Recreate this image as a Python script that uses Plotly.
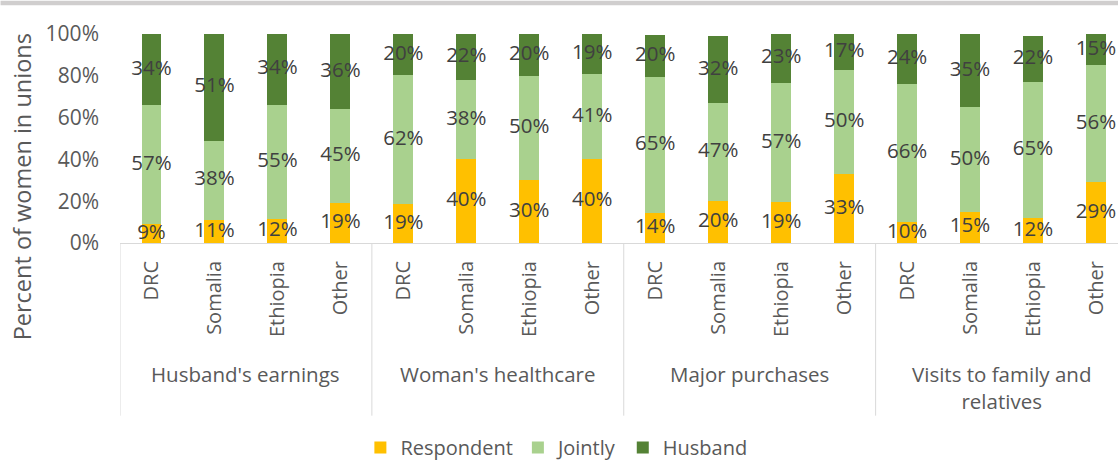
import plotly.graph_objects as go

# ---- data ----
groups = ["Husband's earnings", "Woman's healthcare", "Major purchases", "Visits to family and<br>relatives"]
countries = ["DRC", "Somalia", "Ethiopia", "Other"]
series_names = ["Respondent", "Jointly", "Husband"]

respondent = [9, 11, 11.6, 19,   18.6, 40, 30, 40,   14.2, 20, 19.4, 33,   10, 15, 12, 29]
jointly    = [57, 38, 54.6, 45,  61.8, 38, 50, 41,   65.2, 47, 57.3, 50,   66, 50, 65, 56]
husband    = [34, 51, 33.8, 36,  19.6, 22, 20, 19,   20.2, 32, 23.3, 17,   24, 35, 22, 15]

colors = ["#FFC000", "#A9D18E", "#548235"]

FONT = "Open Sans"
TXT = "#404040"
AX = "#595959"
LINE = "#D9D9D9"

n = len(respondent)
xs = list(range(n))
ticktext = countries * len(groups)

fig = go.Figure()
series = [respondent, jointly, husband]
for name, vals, col in zip(series_names, series, colors):
    fig.add_trace(go.Bar(x=xs, y=[v / 100 for v in vals], name=name, width=0.317,
                         marker=dict(color=col, line=dict(width=0))))

# data labels centred in each segment
base = [0.0] * n
for vals in series:
    mids = [(b + v / 2) / 100 for b, v in zip(base, vals)]
    fig.add_trace(go.Scatter(x=xs, y=mids, mode="text",
                             text=[f"{round(v)}%" for v in vals],
                             textposition="middle center",
                             textfont=dict(family=FONT, size=20.5, color=TXT),
                             showlegend=False, hoverinfo="skip", cliponaxis=False))
    base = [b + v for b, v in zip(base, vals)]

W, H = 1118, 463
L, T = 119.5, 33.5
plot_h = 210
B = H - T - plot_h
R = 0
plot_w = W - L - R
cat_px = 63.0
xmax = -0.5 + plot_w / cat_px

def ypx(py):
    return (T + plot_h - py) / plot_h

def xpx(px):
    return (px - L) / plot_w

shapes = []
for g in range(len(groups) + 1):
    shapes.append(dict(type="line", xref="x", yref="paper", x0=g * 4 - 0.5, x1=g * 4 - 0.5,
                       y0=0, y1=ypx(417), line=dict(color=LINE, width=1)))
# top grey strip
shapes.append(dict(type="rect", xref="paper", yref="paper", x0=xpx(0), x1=xpx(W),
                   y0=ypx(0), y1=ypx(4.5), fillcolor="#D0CECE", line=dict(width=0), layer="below"))

annotations = []
for g, name in enumerate(groups):
    annotations.append(dict(x=g * 4 + 1.5, xref="x", y=ypx(359), yref="paper", text=name,
                            showarrow=False, yanchor="top", xanchor="center",
                            font=dict(family=FONT, size=20.5, color=AX)))
annotations.append(dict(x=xpx(21), y=ypx(187), xref="paper", yref="paper",
                        text="Percent of women in unions", textangle=-90, showarrow=False,
                        xanchor="center", yanchor="middle",
                        font=dict(family=FONT, size=23.5, color=AX)))

fig.update_layout(
    width=W, height=H,
    margin=dict(l=L, r=R, t=T, b=B, autoexpand=False),
    barmode="stack",
    plot_bgcolor="white", paper_bgcolor="white",
    font=dict(family=FONT, color=AX),
    xaxis=dict(range=[-0.5, xmax], tickvals=xs, ticktext=ticktext, tickangle=-90,
               tickfont=dict(family=FONT, size=20, color=AX), showline=True,
               linecolor=LINE, linewidth=1, showgrid=False, zeroline=False, ticks="",
               ticklabelstandoff=9, automargin=False),
    yaxis=dict(range=[0, 1], tickvals=[0, 0.2, 0.4, 0.6, 0.8, 1.0], tickformat=".0%",
               tickfont=dict(family=FONT, size=21, color=AX), showgrid=False,
               zeroline=False, showline=False, ticks="", ticklabelstandoff=20,
               automargin=False),
    legend=dict(orientation="h", traceorder="normal", x=xpx(360), xanchor="left",
                y=ypx(449), yanchor="middle",
                font=dict(family=FONT, size=20, color=AX), bgcolor="rgba(0,0,0,0)"),
    shapes=shapes, annotations=annotations,
    showlegend=True,
)

fig.write_html("out.html", config={"displayModeBar": False},
               post_script="document.body.style.margin='0';document.body.style.overflow='hidden';")
